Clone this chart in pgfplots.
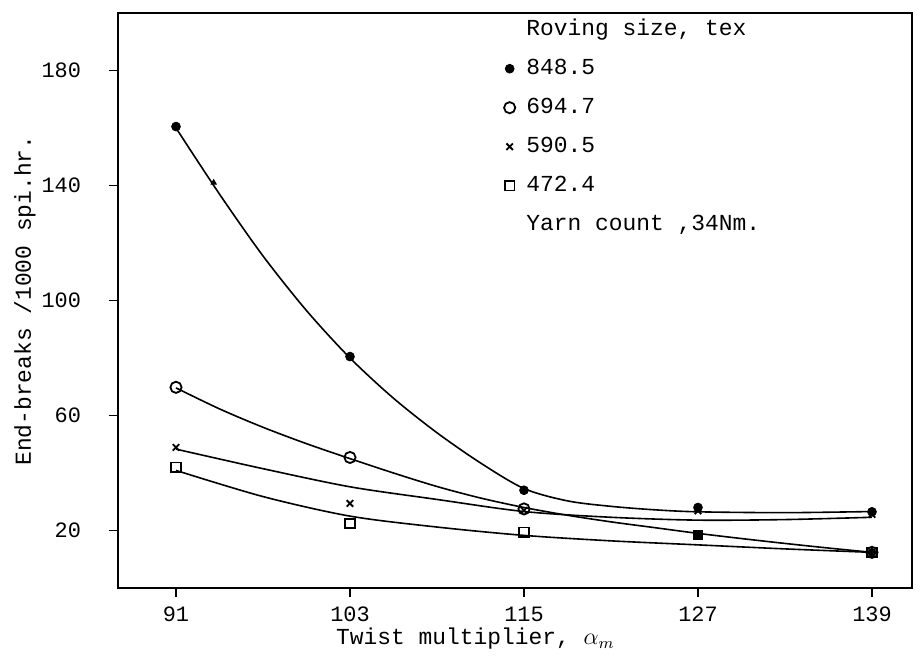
\documentclass[border=0pt]{standalone}
\usepackage{fontspec}
\setmainfont{Liberation Mono}
\usepackage{pgfplots}
\pgfplotsset{compat=1.18}
\begin{document}
\fontsize{11.5}{13}\selectfont
\begin{tikzpicture}
\begin{axis}[
 name=ax,
 scale only axis, width=397bp, height=287.5bp,
 xmin=87, xmax=141.76, ymin=0, ymax=200,
 axis line style={line width=1bp},
 xtick={91,103,115,127,139}, ytick={20,60,100,140,180},
 tick align=outside, tick pos=left,
 major tick length=4.5bp,
 tick style={line width=0.9bp, black},
 /pgf/number format/assume math mode=true,
 ticklabel style={font=\fontsize{11}{13}\selectfont},
 yticklabel style={xshift=-10bp},
 xticklabel style={yshift=-1bp},
 xlabel={Twist multiplier, $\alpha_{m}$},
 xlabel style={at={([yshift=-16bp]axis description cs:0.45,0)}, anchor=north},
 ylabel={End-breaks /1000 spi.hr.},
 ylabel style={at={([xshift=-46.5bp]axis description cs:0,0.5)}, anchor=center},
 legend cell align=left,
 legend style={at={(axis cs:113.6,198.5)}, anchor=north west, draw=none, fill=none,
   inner sep=0pt, row sep=7.5bp, column sep=4.5bp,
   font=\fontsize{11.5}{13}\selectfont,
   nodes={inner sep=1bp, text height=8bp, text depth=2bp}},
 legend image code/.code={\draw[#1] plot coordinates {(0bp,0bp)};},
]
% fitted curves
\addplot[line width=0.8bp, smooth, tension=0.5, forget plot] coordinates {
 (91,160) (94,137) (97,115.5) (100,96.5) (103,80) (106,66) (109,54) (112,43.5) (115,34.6) (118,30.3) (121,28.4) (124,27.2) (127,26.5) (133,26.2) (139,26.6)};
\addplot[line width=0.8bp, smooth, tension=0.5, forget plot] coordinates {
 (91,69.6) (94,62.3) (97,55.9) (100,50.2) (103,45) (106,40) (109,35.3) (112,31.3) (115,28) (118,25.3) (121,23) (124,21) (127,19) (130,17.2) (133,15.5) (136,13.9) (139,12.4)};
\addplot[line width=0.8bp, smooth, tension=0.5, forget plot] coordinates {
 (91,48.3) (97,41.5) (103,35.2) (109,30.8) (115,26.6) (121,24.6) (127,23.6) (133,23.8) (139,24.6)};
\addplot[line width=0.8bp, smooth, tension=0.5, forget plot] coordinates {
 (91,40.9) (97,31.8) (103,25) (109,21.2) (115,18.3) (121,16.4) (127,15) (133,13.6) (139,12.4)};
% markers
\addlegendimage{empty legend}\addlegendentry{Roving size, tex}
\addplot[only marks, mark=*, mark size=2.2bp] coordinates {(91,160.5) (103,80.5) (115,34) (127,28) (139,26.5)};
\addlegendentry{848.5}
\addplot[only marks, mark=o, mark size=2.8bp, mark options={line width=0.9bp}] coordinates {(91,69.8) (103,45.4) (115,27.5) (139,12.4)};
\addlegendentry{694.7}
\addplot[only marks, mark=x, mark size=2.3bp, mark options={line width=0.9bp}] coordinates {(91,48.9) (103,29.4) (115,27) (127,26.8) (139,25.6)};
\addlegendentry{590.5}
\addplot[only marks, mark=square, mark size=2.4bp, mark options={line width=0.9bp}] coordinates {(91,42) (103,22.4) (115,19.4) (139,12.4)};
\addlegendentry{472.4}
\addlegendimage{empty legend}\addlegendentry{Yarn count ,34Nm.}
\addplot[only marks, mark=square*, mark size=2.2bp, forget plot] coordinates {(127,18.6)};
\addplot[only marks, mark=*, mark size=2bp, forget plot] coordinates {(139,12.4)};
\addplot[only marks, mark=triangle*, mark size=1.5bp, forget plot] coordinates {(93.6,141)};
\end{axis}
\pgfresetboundingbox
\path ([xshift=-59bp,yshift=-34bp]ax.south west) rectangle ([xshift=4bp,yshift=6.5bp]ax.north east);
\end{tikzpicture}
\end{document}
